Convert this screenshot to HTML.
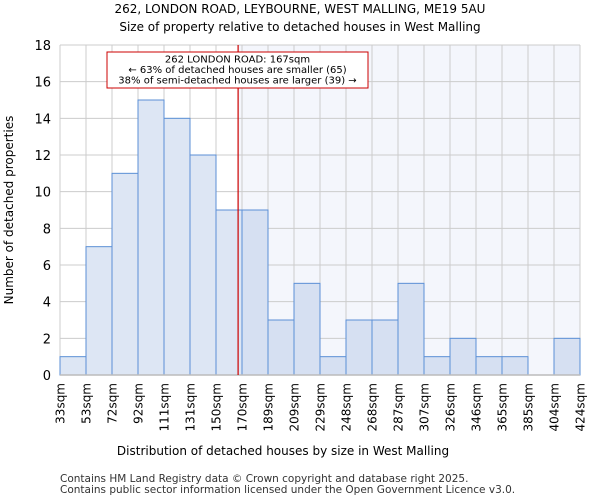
<!DOCTYPE html>
<html><head><meta charset="utf-8"><style>
body{margin:0;background:#fff;font-family:"DejaVu Sans","Liberation Sans",sans-serif;}
</style></head><body>
<svg width="600" height="500" xmlns="http://www.w3.org/2000/svg" id="c" font-family="DejaVu Sans, Liberation Sans, sans-serif">
<text x="300" y="13" text-anchor="middle" font-size="12">262, LONDON ROAD, LEYBOURNE, WEST MALLING, ME19 5AU</text>
<text x="300" y="31" text-anchor="middle" font-size="12">Size of property relative to detached houses in West Malling</text>
<g id="plot"></g>
<text x="283" y="455" text-anchor="middle" font-size="12">Distribution of detached houses by size in West Malling</text>
<text transform="translate(13,210) rotate(-90)" text-anchor="middle" font-size="12">Number of detached properties</text>
<text x="60" y="482" font-size="10.5" fill="#333">Contains HM Land Registry data © Crown copyright and database right 2025.</text>
<text x="60" y="493" font-size="10.5" fill="#333">Contains public sector information licensed under the Open Government Licence v3.0.</text>
</svg>
<script>
const categories=["33sqm","53sqm","72sqm","92sqm","111sqm","131sqm","150sqm","170sqm","189sqm","209sqm","229sqm","248sqm","268sqm","287sqm","307sqm","326sqm","346sqm","365sqm","385sqm","404sqm","424sqm"];
const counts=[1,7,11,15,14,12,9,9,3,5,1,3,3,5,1,2,1,1,0,2];
const yTicks=[0,2,4,6,8,10,12,14,16,18];
const propertySize=167;
const binStarts=[33,53,72,92,111,131,150,170,189,209,229,248,268,287,307,326,346,365,385,404,424];
const X0=60,X1=580,Y0=375,Y1=45,YMAX=18;
const bw=(X1-X0)/counts.length;
const x=i=>X0+i*bw;
const y=v=>Y0-(v/YMAX)*(Y0-Y1);
function sizeX(s){for(let i=0;i<binStarts.length-1;i++){if(s>=binStarts[i]&&s<=binStarts[i+1])return x(i)+(s-binStarts[i])/(binStarts[i+1]-binStarts[i])*bw;}return X1;}
const g=document.getElementById('plot');const NS="http://www.w3.org/2000/svg";
function mk(t,a){const e=document.createElementNS(NS,t);for(const k in a)e.setAttribute(k,a[k]);g.appendChild(e);return e;}
const rx=sizeX(propertySize);
let e=mk('rect',{x:rx,y:Y1,width:X1-rx,height:Y0-Y1,fill:'#f4f6fc'});


for(let i=0;i<=counts.length;i++){e=mk('line',{x1:x(i),x2:x(i),y1:Y1,y2:Y0,stroke:'#ccc','stroke-width':1});

}
yTicks.forEach(t=>{e=mk('line',{x1:X0,x2:X1,y1:y(t),y2:y(t),stroke:'#ccc','stroke-width':1});


e=mk('text',{x:X0-9,y:y(t)+5,'text-anchor':'end','font-size':13});e.textContent=t;

});
counts.forEach((v,i)=>{if(v<=0)return;const right=x(i)>=rx;
e=mk('rect',{x:x(i),y:y(v),width:bw,height:Y0-y(v),fill:right?'#d6e0f2':'#dde6f4',stroke:'#5b8fd6','stroke-width':1});

});
e=mk('line',{x1:X0,x2:X1,y1:Y0,y2:Y0,stroke:'#bbb','stroke-width':1.5});


categories.forEach((c,i)=>{e=mk('text',{transform:`translate(${x(i)+4.5},${Y0+8}) rotate(-90)`,'text-anchor':'end','font-size':12});e.textContent=c;

});
e=mk('line',{x1:rx,x2:rx,y1:Y1,y2:Y0,stroke:'#cc0000','stroke-width':1.2});


e=mk('rect',{x:107,y:52,width:261,height:36,fill:'#fff',stroke:'#cc0000','stroke-width':1});


["262 LONDON ROAD: 167sqm","← 63% of detached houses are smaller (65)","38% of semi-detached houses are larger (39) →"].forEach((s,k)=>{
e=mk('text',{x:237.5,y:62.5+k*10.5,'text-anchor':'middle','font-size':10});e.textContent=s;

});
</script>
</body></html>
